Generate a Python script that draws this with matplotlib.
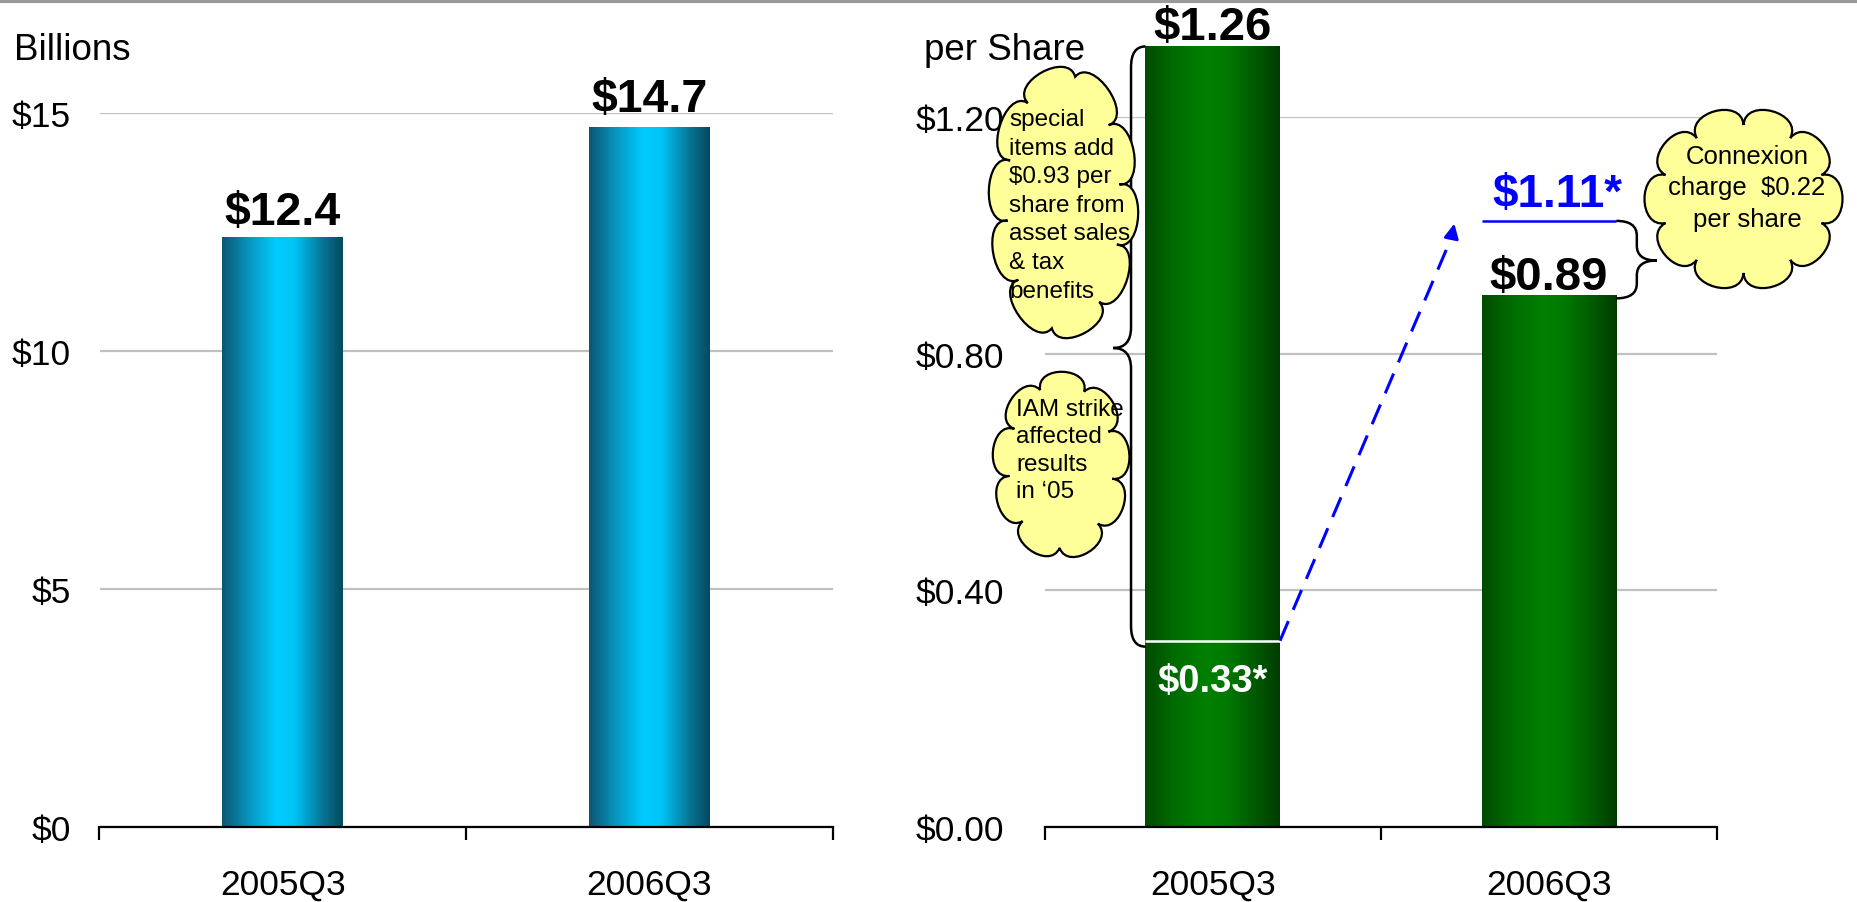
import numpy as np
import matplotlib.pyplot as plt
from matplotlib.colors import LinearSegmentedColormap
from matplotlib.path import Path
from matplotlib.patches import PathPatch
from matplotlib.lines import Line2D

plt.rcParams['font.family'] = ['Liberation Sans', 'DejaVu Sans']

# data
quarters = ['2005Q3', '2006Q3']
revenue = [12.4, 14.7]
revenue_labels = ['$12.4', '$14.7']
eps = [1.32, 0.90]              # bar heights as drawn
eps_labels = ['$1.26', '$0.89']
eps_adjusted = [0.315, 1.025]   # excluding special items / Connexion charge
eps_adjusted_labels = ['$0.33*', '$1.11*']

rev_ticks = [0, 5, 10, 15]
eps_ticks = [0.0, 0.4, 0.8, 1.2]

W, H = 1857, 903
fig = plt.figure(figsize=(W / 100, H / 100), dpi=100)


def px(x, y):
    # pixel (from top-left) -> figure fraction
    return x / W, 1 - y / H


ax1 = fig.add_axes([99.5 / W, 1 - 828 / H, (832.6 - 99.5) / W, (828 - 114) / H])
ax2 = fig.add_axes([1044.6 / W, 1 - 828 / H, (1717.2 - 1044.6) / W, (828 - 118.4) / H])

cyan = LinearSegmentedColormap.from_list('cy', [(0, '#0D5670'), (0.2, '#0890B8'), (0.45, '#00CCFF'),
                                                (0.6, '#00C4F5'), (0.85, '#08708E'), (1, '#044A60')])
green = LinearSegmentedColormap.from_list('gr', [(0, '#004A00'), (0.2, '#006A00'), (0.45, '#008000'),
                                                 (0.6, '#007A00'), (0.85, '#005500'), (1, '#003C00')])


def gradient_bars(ax, values, width, cmap):
    bars = ax.bar(range(len(values)), values, width=width, color='none', edgecolor='none', zorder=2)
    grad = np.linspace(0, 1, 256).reshape(1, -1)
    for b in bars:
        x0, w, h = b.get_x(), b.get_width(), b.get_height()
        im = ax.imshow(grad, cmap=cmap, aspect='auto', extent=(x0, x0 + w, 0, h),
                       zorder=2, interpolation='bilinear')
        im.set_clip_path(b)
    return bars


def style(ax, ticks, labels, top, ypad):
    ax.set_xlim(-0.5, 1.5)
    ax.set_ylim(0, top)
    for s in ['top', 'right', 'left']:
        ax.spines[s].set_visible(False)
    ax.spines['bottom'].set_linewidth(1.6)
    ax.spines['bottom'].set_zorder(4)
    ax.set_yticks(ticks)
    ax.set_yticklabels(labels, fontsize=25.5)
    ax.tick_params(axis='y', length=0, pad=ypad)
    ax.yaxis.grid(True, color='#c0c0c0', linewidth=1.6)
    ax.set_axisbelow(True)
    ax.set_xticks([-0.5, 0.5, 1.5])
    ax.set_xticklabels([])
    ax.set_xticks([0, 1], minor=True)
    ax.set_xticklabels(quarters, minor=True, fontsize=25.5)
    ax.tick_params(axis='x', which='major', length=9.5, width=1.6, direction='out')
    ax.tick_params(axis='x', which='minor', length=0, pad=29)


def brace(ax, xe, xl, xt, y_top, y_bot, ym, r, **kw):
    verts = [(xe, y_top), (xl, y_top), (xl, y_top - r),
             (xl, ym + r),
             (xl, ym), (xt, ym),
             (xl, ym), (xl, ym - r),
             (xl, y_bot + r),
             (xl, y_bot), (xe, y_bot)]
    codes = [Path.MOVETO, Path.CURVE3, Path.CURVE3, Path.LINETO, Path.CURVE3, Path.CURVE3,
             Path.CURVE3, Path.CURVE3, Path.LINETO, Path.CURVE3, Path.CURVE3]
    ax.add_patch(PathPatch(Path(verts, codes), facecolor='none', clip_on=False, **kw))


def cloud(x0, y0, x1, y1, n, bump, phase=0.03):
    # scalloped ellipse inside a pixel box (top-left origin)
    cx, cy = (x0 + x1) / 2, H - (y0 + y1) / 2
    rx, ry = (x1 - x0) / 2 - bump, (y1 - y0) / 2 - bump
    t = np.linspace(0, 2 * np.pi, 2000)
    ex, ey = cx + rx * np.cos(t), cy + ry * np.sin(t)
    seg = np.hypot(np.diff(ex), np.diff(ey))
    cum = np.concatenate([[0], np.cumsum(seg)])
    targets = (np.linspace(0, cum[-1], n + 1) + cum[-1] * phase) % cum[-1]
    pts = [(np.interp(s, cum, ex), np.interp(s, cum, ey)) for s in targets]
    verts, codes = [pts[0]], [Path.MOVETO]
    for a, b in zip(pts[:-1], pts[1:]):
        a, b = np.array(a), np.array(b)
        c = b - a
        nrm = np.array([c[1], -c[0]]) / np.hypot(*c)
        k = bump * 4 / 3
        verts += [tuple(a + nrm * k - c * 0.12), tuple(b + nrm * k + c * 0.12), tuple(b)]
        codes += [Path.CURVE4] * 3
    verts = [(x / W, y / H) for x, y in verts]
    fig.add_artist(PathPatch(Path(verts, codes), facecolor='#FFFF99', edgecolor='black',
                             linewidth=1.6, transform=fig.transFigure, zorder=5))


# ---- left: revenue
bars1 = gradient_bars(ax1, revenue, 0.33, cyan)
style(ax1, rev_ticks, ['$%d' % t for t in rev_ticks], 15, 20.5)
for b, lab, off in zip(bars1, revenue_labels, [9, 12]):
    ax1.annotate(lab, (b.get_x() + b.get_width() / 2, b.get_height()), xytext=(0, off),
                 textcoords='offset points', ha='center', va='baseline', fontsize=33.5,
                 fontweight='bold', annotation_clip=False)

# ---- right: EPS
bars2 = gradient_bars(ax2, eps, 0.40, green)
style(ax2, eps_ticks, ['$%.2f' % t for t in eps_ticks], 1.2, 29)
for b, lab, off in zip(bars2, eps_labels, [5, 4.5]):
    ax2.annotate(lab, (b.get_x() + b.get_width() / 2, b.get_height()), xytext=(0, off),
                 textcoords='offset points', ha='center', va='baseline', fontsize=34,
                 fontweight='bold', annotation_clip=False)

b0, b1 = bars2
ax2.hlines(eps_adjusted[0], b0.get_x(), b0.get_x() + b0.get_width(), color='white', lw=1.8, zorder=3)
ax2.annotate(eps_adjusted_labels[0], (b0.get_x() + b0.get_width() / 2, eps_adjusted[0]),
             xytext=(0, -36), textcoords='offset points', ha='center', va='baseline',
             fontsize=27.5, fontweight='bold', color='white', zorder=4)
ax2.hlines(eps_adjusted[1], b1.get_x(), b1.get_x() + b1.get_width(), color='#0000FF', lw=1.8,
           zorder=3, clip_on=False)
ax2.annotate(eps_adjusted_labels[1], (b1.get_x() + b1.get_width() / 2, eps_adjusted[1]),
             xytext=(6, 11), textcoords='offset points', ha='center', va='baseline',
             fontsize=33, fontweight='bold', color='#0000FF', zorder=4, annotation_clip=False)

# dashed arrow from adjusted 2005 to adjusted 2006
x_start = b0.get_x() + b0.get_width()
x_tip = b1.get_x() - 0.08
ax2.plot([x_start, x_tip - 0.01], [eps_adjusted[0], eps_adjusted[1] - 0.028], color='#0000FF',
         lw=2.2, dashes=(7, 4), zorder=3, clip_on=False)
ax2.annotate('', xy=(x_tip, eps_adjusted[1]), xytext=(x_tip - 0.01, eps_adjusted[1] - 0.028),
             arrowprops=dict(arrowstyle='-|>', color='#0000FF', lw=2, mutation_scale=22),
             annotation_clip=False)

# braces
brace(ax2, b0.get_x(), -0.243, -0.296, eps[0], eps_adjusted[0] - 0.01, 0.81, 0.035,
      edgecolor='black', linewidth=1.8, zorder=3)
brace(ax2, b1.get_x() + b1.get_width(), 1.261, 1.32, eps_adjusted[1], eps[1] - 0.006, 0.958, 0.025,
      edgecolor='black', linewidth=1.8, zorder=3)

# axis captions
fig.text(*px(14, 50), 'Billions', va='center', ha='left', fontsize=26.5)
fig.text(*px(924, 50), 'per Share', va='center', ha='left', fontsize=26.5)

# callout clouds
cloud(987, 55, 1140, 352, 10, 20)
for i, line in enumerate(['special', 'items add', '$0.93 per', 'share from', 'asset sales', '& tax', 'benefits']):
    fig.text(*px(1009, 120 + 28.6 * i), line, ha='left', va='center', fontsize=17.5, zorder=6)

cloud(990, 365, 1132, 568, 9, 19, phase=0.08)
for i, line in enumerate(['IAM strike', 'affected', 'results', 'in \u201805']):
    fig.text(*px(1016, 410 + 27.3 * i), line, ha='left', va='center', fontsize=17.5, zorder=6)

cloud(1640, 105, 1847, 295, 10, 21, phase=0.05)
for i, line in enumerate(['Connexion', 'charge  $0.22', 'per share']):
    fig.text(*px(1747, 156.7 + 31.6 * i), line, ha='center', va='center', fontsize=18.5, zorder=6)

# gray rule along the top
fig.add_artist(Line2D([0, 1], [1 - 1.5 / H] * 2, transform=fig.transFigure, color='#999999', lw=3))

fig.savefig('out.png', dpi=100)
